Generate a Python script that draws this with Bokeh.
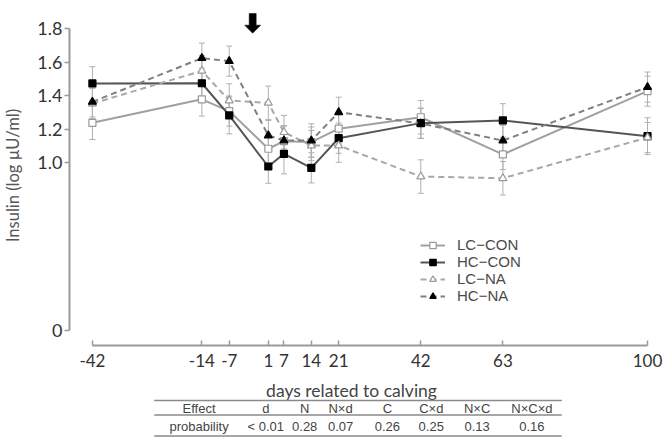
from bokeh.plotting import figure
from bokeh.models import (ColumnDataSource, Range1d, FixedTicker, PrintfTickFormatter,
                          Whisker, TeeHead, Legend, LegendItem)
from bokeh.layouts import column
from bokeh.embed import file_html
from bokeh.resources import INLINE
from bokeh.core.properties import value

# ---------------- data ----------------
day_labels = ["-42", "-14", "-7", "1", "7", "14", "21", "42", "63", "100"]
day_pos = [-42, -14, -7, 3, 7, 14, 21, 42, 63, 100]   # plotted position of each sampling day

lc_con = [1.24, 1.38, 1.31, 1.085, 1.13, 1.125, 1.205, 1.273, 1.051, 1.429]
hc_con = [1.475, 1.476, 1.284, 0.979, 1.055, 0.971, 1.148, 1.238, 1.254, 1.160]
lc_na = [1.355, 1.55, 1.373, 1.359, 1.184, 1.104, 1.104, 0.919, 0.909, 1.152]
hc_na = [1.365, 1.626, 1.608, 1.164, 1.134, 1.134, 1.303, 1.236, 1.134, 1.453]

lc_con_se = [0.10, 0.10, 0.09, 0.09, 0.09, 0.09, 0.09, 0.10, 0.09, 0.09]
hc_con_se = [0.10, 0.09, 0.11, 0.10, 0.12, 0.09, 0.09, 0.09, 0.10, 0.11]
lc_na_se = [0.09, 0.09, 0.10, 0.10, 0.10, 0.09, 0.10, 0.10, 0.10, 0.09]
hc_na_se = [0.09, 0.09, 0.09, 0.09, 0.09, 0.10, 0.09, 0.09, 0.09, 0.09]

y_ticks = [0, 1.0, 1.2, 1.4, 1.6, 1.8]
effects = ["Effect", "d", "N", "N×d", "C", "C×d", "N×C", "N×C×d"]
probs = ["probability", "< 0.01", "0.28", "0.07", "0.26", "0.25", "0.13", "0.16"]
arrow_day = -1

# ---------------- main chart ----------------
X0, X1 = -47.86, 101.53
Y0, Y1 = -0.0896, 1.9403
p = figure(width=667, height=375, x_range=Range1d(X0, X1), y_range=Range1d(Y0, Y1),
           output_backend="svg", toolbar_location=None,
           min_border_left=67, min_border_right=14, min_border_top=5, min_border_bottom=30)
p.outline_line_color = None
p.grid.visible = False

AX = "#9a9a9a"
xa = p.xaxis[0]
xa.bounds = (-42, 100)
xa.ticker = FixedTicker(ticks=day_pos)
xa.major_label_overrides = {pos: lab for pos, lab in zip(day_pos, day_labels)}
xa.major_tick_in = 5
xa.major_tick_out = 0
xa.minor_tick_line_color = None
xa.axis_line_color = AX
xa.axis_line_width = 2
xa.major_tick_line_color = AX
xa.major_tick_line_width = 1.5
xa.major_label_text_font = "Lato"
xa.major_label_text_font_size = "17px"
xa.major_label_text_color = "#333333"
xa.major_label_standoff = 8

ya = p.yaxis[0]
ya.bounds = (0, 1.8)
ya.ticker = FixedTicker(ticks=y_ticks)
ya.formatter = PrintfTickFormatter(format="%.1f")
ya.major_label_overrides = {0: "0"}
ya.major_tick_in = 0
ya.major_tick_out = 5
ya.minor_tick_line_color = None
ya.axis_line_color = AX
ya.axis_line_width = 2
ya.major_tick_line_color = AX
ya.major_tick_line_width = 1.5
ya.major_label_text_font = "Lato"
ya.major_label_text_font_size = "18px"
ya.major_label_text_color = "#333333"
ya.major_label_standoff = 2
ya.axis_label = "Insulin (log µU/ml)"
ya.axis_label_text_font = "Lato"
ya.axis_label_text_font_size = "16.5px"
ya.axis_label_text_font_style = "normal"
ya.axis_label_text_color = "#555555"
ya.axis_label_standoff = 11

series = [
    ("LC\u2212CON", lc_con, lc_con_se, "#a0a0a0", "solid", "square", "white", "#9a9a9a", 7),
    ("HC\u2212CON", hc_con, hc_con_se, "#555555", "solid", "square", "black", "black", 7),
    ("LC\u2212NA", lc_na, lc_na_se, "#a8a8a8", "6 4", "triangle", "white", "#9a9a9a", 8),
    ("HC\u2212NA", hc_na, hc_na_se, "#808080", "6 4", "triangle", "black", "black", 8),
]

for name, vals, se, lc, dash, mk, fc, mc, sz in series:
    src = ColumnDataSource(dict(x=day_pos, y=vals,
                                lo=[v - s for v, s in zip(vals, se)],
                                hi=[v + s for v, s in zip(vals, se)]))
    p.add_layout(Whisker(source=src, base="x", lower="lo", upper="hi", dimension="height",
                         line_color="#b0b0b0", line_width=1,
                         upper_head=TeeHead(size=6, line_color="#b0b0b0", line_width=1),
                         lower_head=TeeHead(size=6, line_color="#b0b0b0", line_width=1)))

# one single-entry legend per series, stacked closely
legend_y = [92, 75, 58, 41]
for (name, vals, se, lc, dash, mk, fc, mc, sz), ly in zip(series, legend_y):
    src = ColumnDataSource(dict(x=day_pos, y=vals))
    r1 = p.line("x", "y", source=src, line_color=lc, line_width=2, line_dash=dash)
    r2 = p.scatter("x", "y", source=src, marker=mk, size=sz, fill_color=fc,
                   line_color=mc, line_width=1.2)
    leg = Legend(items=[LegendItem(label=name, renderers=[r1, r2])], location=(351, ly),
                 glyph_width=25, glyph_height=16, label_height=16, spacing=0,
                 padding=0, margin=0, label_standoff=12,
                 label_text_font="Liberation Sans", label_text_font_size="15px",
                 label_text_color="#4a4a4a", border_line_color=None,
                 background_fill_alpha=0)
    p.add_layout(leg)

# calving arrow (decoration)
dx = (X1 - X0) / 586.0
dy = (Y1 - Y0) / 340.0
top, tip = 1.8925, 1.775
a = arrow_day
ax = [a - 3.5 * dx, a + 3.5 * dx, a + 3.5 * dx, a + 8 * dx, a, a - 8 * dx, a - 3.5 * dx, a - 3.5 * dx]
ay = [top, top, tip + 8 * dy, tip + 8 * dy, tip, tip + 8 * dy, tip + 8 * dy, top]
p.patch(ax, ay, fill_color="black", line_color="black", line_width=0.5)

# ---------------- axis title + effects table ----------------
# frames of the column are aligned, so this x range spans the same pixels as the chart frame
t = figure(width=667, height=63, x_range=Range1d(67, 653), y_range=Range1d(438, 375),
           output_backend="svg", toolbar_location=None, min_border=0,
           min_border_left=67, min_border_right=14,
           x_axis_location=None, y_axis_location=None)
t.outline_line_color = None
t.grid.visible = False

t.text(x=[350], y=[390], text=["days related to calving"], text_font=value("Lato"),
       text_font_size="17.5px", text_color="#444444", text_align="center",
       text_baseline="middle")

col_x = [197, 264, 303, 339, 386, 430, 476, 531]
t.segment(x0=[152, 152, 152], y0=[400, 414.5, 435.5], x1=[561, 561, 561],
          y1=[400, 414.5, 435.5], line_color="#8a8a8a", line_width=1.6)
t.text(x=col_x, y=[407.5] * len(col_x), text=effects, text_font=value("Liberation Sans"),
       text_font_size="13px", text_color="#444444", text_align="center",
       text_baseline="middle")
t.text(x=col_x, y=[426] * len(col_x), text=probs, text_font=value("Liberation Sans"),
       text_font_size="13px", text_color="#444444", text_align="center",
       text_baseline="middle")

layout = column(p, t, spacing=0)
open("out.html", "w").write(file_html(layout, INLINE))
